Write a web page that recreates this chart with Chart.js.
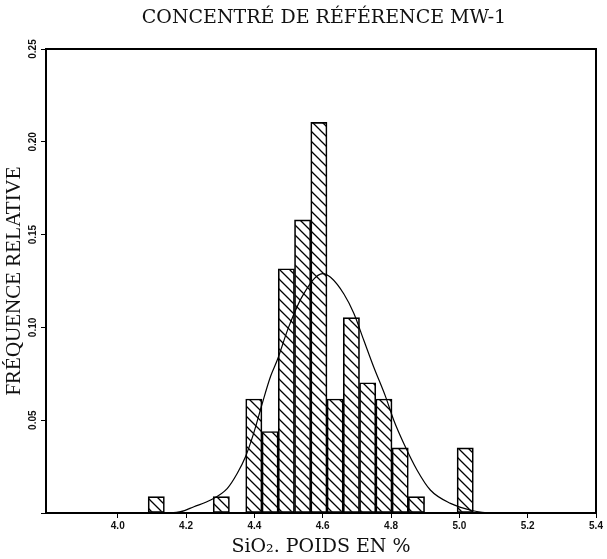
<!DOCTYPE html>
<html>
<head>
<meta charset="utf-8">
<script src="https://cdn.jsdelivr.net/npm/chart.js@4.4.1/dist/chart.umd.min.js"></script>
<style>
  html, body { margin: 0; padding: 0; background: #fff; }
</style>
</head>
<body>
<canvas id="histogramme" width="607" height="559"></canvas>
<script>
// centres des classes (SiO2, poids en %)
const centresClasses = [4.1128, 4.1604, 4.2080, 4.2556, 4.3032, 4.3508, 4.3984, 4.4460, 4.4936, 4.5412,
                        4.5888, 4.6364, 4.6840, 4.7316, 4.7792, 4.8268, 4.8744, 4.9220, 4.9696, 5.0172];
// frequence relative de chaque classe (null = classe vide)
const frequences = [0.0088, null, null, null, 0.0088, null, 0.0614, 0.0439, 0.1316, 0.1579,
                    0.2105, 0.0614, 0.1053, 0.0702, 0.0614, 0.0351, 0.0088, null, null, 0.0351];
// courbe normale
const courbeX = [4.14, 4.184, 4.223, 4.272, 4.321, 4.35, 4.374, 4.398, 4.423, 4.447, 4.467, 4.50,
                 4.541, 4.60, 4.623, 4.662, 4.691, 4.72, 4.749, 4.784, 4.808, 4.837, 4.876,
                 4.915, 4.974, 5.04, 5.08];
const courbeY = [0, 0.0007, 0.0034, 0.007, 0.0133, 0.0214, 0.0303, 0.043, 0.059, 0.0734, 0.0824, 0.100,
                 0.117, 0.129, 0.127, 0.118, 0.1076, 0.0932, 0.0788, 0.0627, 0.050, 0.0376, 0.0232,
                 0.0124, 0.0052, 0.0012, 0];
// graduations
const ticksX = [4.0, 4.2, 4.4, 4.6, 4.8, 5.0, 5.2, 5.4];
const ticksY = [0, 0.05, 0.10, 0.15, 0.20, 0.25];

const serif = "'Liberation Serif', 'DejaVu Serif', serif";
const serifLarge = "'DejaVu Serif', 'Liberation Serif', serif";
const sans = "'Liberation Sans', Arial, sans-serif";

// motif de hachures "\"
function hachures() {
    const c = document.createElement('canvas');
    c.width = 10; c.height = 10;
    const g = c.getContext('2d');
    g.strokeStyle = '#000';
    g.lineWidth = 1.3;
    g.beginPath();
    g.moveTo(-2, -2); g.lineTo(12, 12);
    g.moveTo(-2, 8); g.lineTo(2, 12);
    g.moveTo(8, -2); g.lineTo(12, 2);
    g.stroke();
    return g.createPattern(c, 'repeat');
}

// cadre + titre centre sur la zone du graphique
const cadre = {
    id: 'cadre',
    afterDraw(chart) {
        const { ctx, chartArea: a } = chart;
        ctx.save();
        ctx.strokeStyle = '#000';
        ctx.lineWidth = 2;
        ctx.strokeRect(a.left, a.top, a.right - a.left, a.bottom - a.top);
        ctx.fillStyle = '#111';
        ctx.font = '19px ' + serifLarge;
        ctx.textAlign = 'center';
        ctx.textBaseline = 'middle';
        ctx.fillText('CONCENTRÉ DE RÉFÉRENCE MW-1', (a.left + a.right) / 2 + 3, 18);
        ctx.restore();
    }
};

const points = centresClasses.map((x, i) => ({ x: x, y: frequences[i] }));
const courbe = courbeX.map((x, i) => ({ x: x, y: courbeY[i] }));

new Chart(document.getElementById('histogramme'), {
    data: {
        datasets: [
            {
                type: 'line',
                data: courbe,
                borderColor: '#000',
                borderWidth: 1.2,
                pointRadius: 0,
                cubicInterpolationMode: 'monotone',
                fill: false,
                order: 0
            },
            {
                type: 'bar',
                data: points,
                backgroundColor: hachures(),
                borderColor: '#000',
                borderWidth: 1,
                borderSkipped: false,
                barPercentage: 1,
                categoryPercentage: 1,
                order: 1
            }
        ]
    },
    options: {
        responsive: false,
        animation: false,
        layout: { padding: { top: 49, right: 11, left: 0, bottom: 0 } },
        plugins: {
            legend: { display: false },
            tooltip: { enabled: false }
        },
        scales: {
            x: {
                type: 'linear',
                min: 3.79,
                max: 5.4,
                offset: false,
                afterBuildTicks: s => { s.ticks = ticksX.map(v => ({ value: v })); },
                afterFit: s => { s.height = 46; },
                border: { display: false },
                grid: { offset: false, drawOnChartArea: false, drawTicks: true, tickLength: 5, tickColor: '#000', tickWidth: 1 },
                ticks: {
                    color: '#111',
                    font: { family: sans, size: 10, weight: 'bold' },
                    padding: 2,
                    maxRotation: 0,
                    callback: v => v.toFixed(1)
                },
                title: {
                    display: true,
                    text: 'SiO₂. POIDS EN %',
                    color: '#111',
                    font: { family: serifLarge, size: 19 },
                    padding: { top: 0, bottom: 1 }
                }
            },
            y: {
                min: 0,
                max: 0.25,
                afterBuildTicks: s => { s.ticks = ticksY.map(v => ({ value: v })); },
                afterFit: s => { s.width = 46; },
                border: { display: false },
                grid: { drawOnChartArea: false, drawTicks: true, tickLength: 5, tickColor: '#000', tickWidth: 1 },
                ticks: {
                    color: '#111',
                    font: { family: sans, size: 10, weight: 'bold' },
                    minRotation: 90,
                    maxRotation: 90,
                    crossAlign: 'center',
                    padding: -2,
                    callback: v => (v === 0 ? '' : v.toFixed(2))
                },
                title: {
                    display: true,
                    text: 'FRÉQUENCE RELATIVE',
                    color: '#111',
                    font: { family: serif, size: 21 },
                    padding: { top: 2, bottom: 0 }
                }
            }
        }
    },
    plugins: [cadre]
});
</script>
</body>
</html>
